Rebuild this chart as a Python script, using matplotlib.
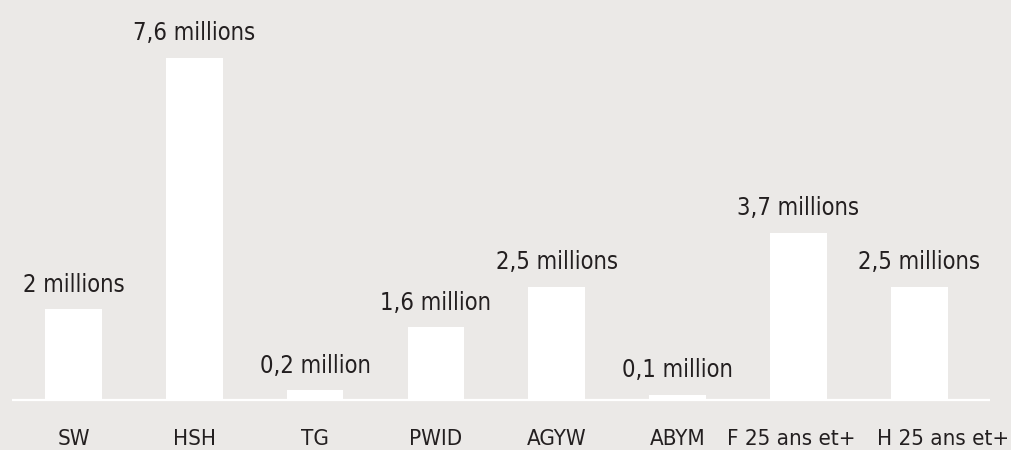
import matplotlib
matplotlib.use("Agg")
import matplotlib.pyplot as plt

categories = ["SW", "HSH", "TG", "PWID", "AGYW", "ABYM", "F 25 ans et+", "H 25 ans et+"]
values = [2.0, 7.6, 0.2, 1.6, 2.5, 0.1, 3.7, 2.5]
value_labels = ["2 millions", "7,6 millions", "0,2 million", "1,6 million",
                "2,5 millions", "0,1 million", "3,7 millions", "2,5 millions"]

plt.rcParams['font.family'] = ['DejaVu Sans']
plt.rcParams['font.stretch'] = 'condensed'

bg = "#ebe9e7"
txt = "#231f20"

fig = plt.figure(figsize=(10.11, 4.5), dpi=100, facecolor=bg)
ax = fig.add_axes([0, 0, 1, 1], facecolor=bg)

x = list(range(len(categories)))
ax.bar(x, values, width=0.47, color="white", zorder=2)
ax.plot([-0.509, 7.587], [-0.02, -0.02], color="white", lw=1.6, zorder=3, solid_capstyle="butt")

for xi, v, lab in zip(x, values, value_labels):
    ax.annotate(lab, (xi, v), xytext=(0, 9), textcoords="offset points",
                ha="center", va="bottom", fontsize=17, color=txt, stretch='condensed')

cat_dx = [0, 0, 0, 0, 0, 0, -0.06, 0.2]
for xi, c, dx in zip(x, categories, cat_dx):
    ax.text(xi + dx, -0.88, c, ha="center", va="center", fontsize=16, color=txt,
            stretch='condensed')

ax.set_xlim(-0.608, 7.76)
ax.set_ylim(-1.136, 8.886)
ax.axis("off")

fig.savefig("out.png", dpi=100, facecolor=bg)
